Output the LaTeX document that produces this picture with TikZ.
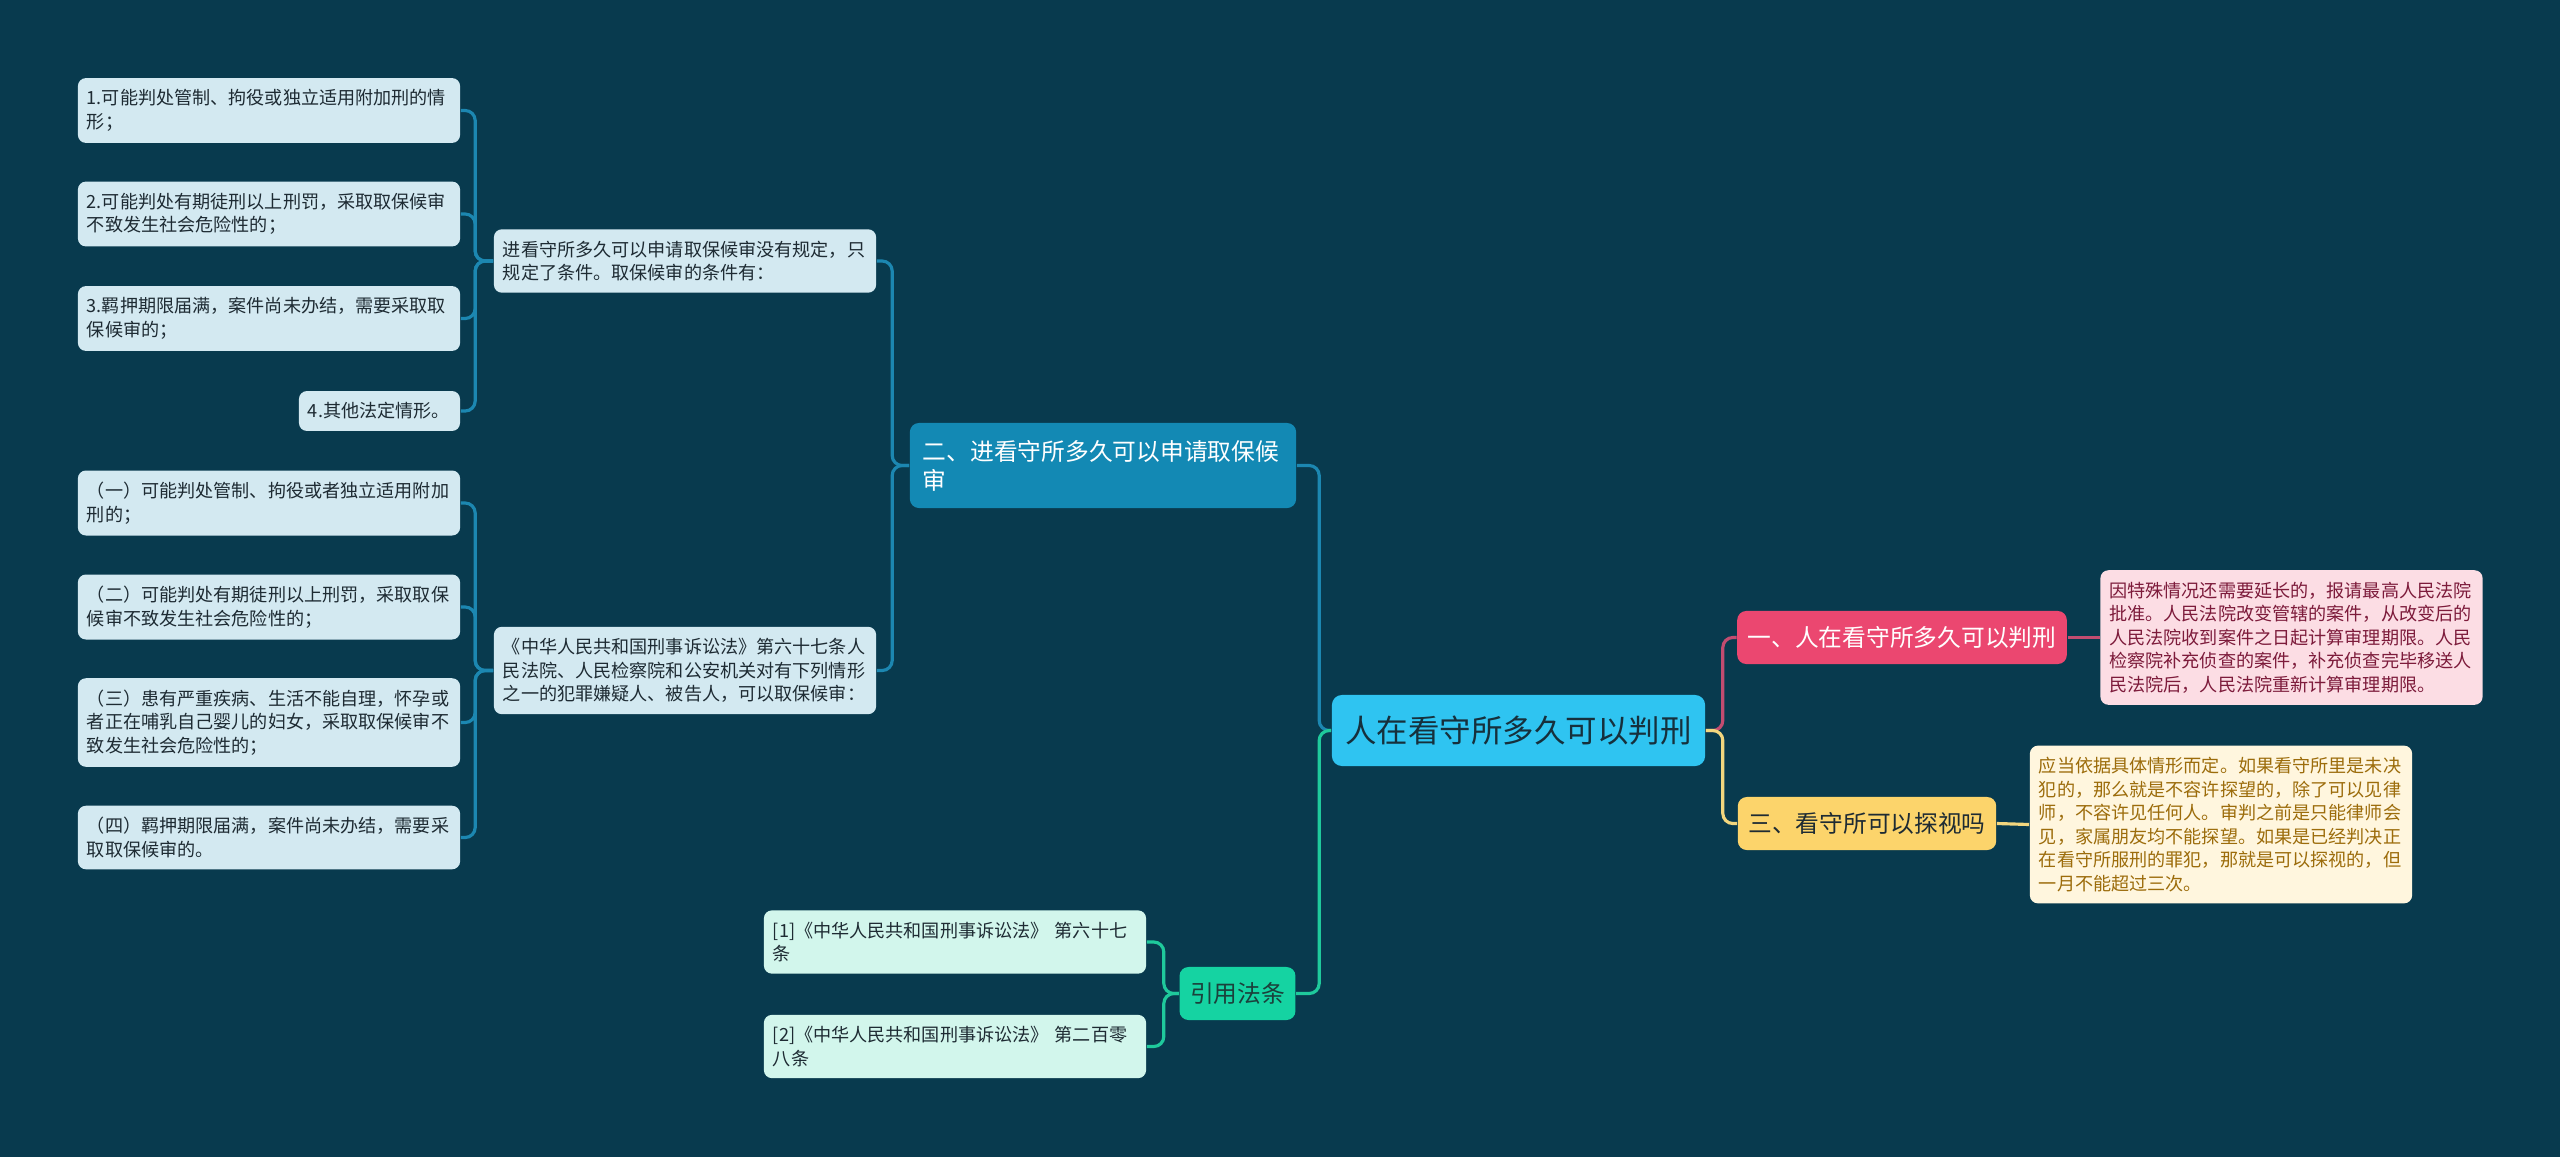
\documentclass[tikz,border=0pt]{standalone}
\usepackage{fontspec}
\newfontfamily\cjk{Noto Sans CJK SC}

\definecolor{bg}{HTML}{083A4E}
\definecolor{rootfill}{HTML}{2FC4F1}
\definecolor{roottext}{HTML}{16303C}
\definecolor{bluefill}{HTML}{1389B4}
\definecolor{blueline}{HTML}{1C87B1}
\definecolor{leafblue}{HTML}{D3E9F1}
\definecolor{pinkfill}{HTML}{EB4770}
\definecolor{pinkline}{HTML}{C24C70}
\definecolor{pinknote}{HTML}{FCDDE4}
\definecolor{pinktext}{HTML}{7D1B3B}
\definecolor{yellowfill}{HTML}{FCD46B}
\definecolor{yellowline}{HTML}{F2D67E}
\definecolor{yellownote}{HTML}{FFF6DE}
\definecolor{yellowtext}{HTML}{9C6C0B}
\definecolor{greenfill}{HTML}{15D3A2}
\definecolor{greenline}{HTML}{1FC99C}
\definecolor{greentext}{HTML}{1B403B}
\definecolor{leafgreen}{HTML}{D2F6EC}
\definecolor{darktext}{HTML}{1E2B33}

\newcommand\LeafFont{\cjk\fontsize{5.15pt}{6.7pt}\selectfont}
\newcommand\BranchFont{\cjk\fontsize{6.75pt}{8.25pt}\selectfont}
\newcommand\RootFont{\cjk\fontsize{8.95pt}{10pt}\selectfont}

\begin{document}
\begin{tikzpicture}[
      x = 0.01cm, y = -0.01cm,
      Line/.style = {draw, line width = 0.9pt, rounded corners = 0.1cm},
      BlueLine/.style = {Line, draw = blueline},
      GreenLine/.style = {Line, draw = greenline},
      PinkLine/.style = {Line, draw = pinkline},
      YellowLine/.style = {Line, draw = yellowline},
      Root/.style = {rectangle, fill = rootfill, rounded corners = 0.1cm, minimum width = 3.73cm, minimum height = 0.71cm, font = \RootFont, text = roottext},
      Branch/.style = {rectangle, rounded corners = 0.09cm, inner xsep = 0.105cm, inner ysep = 0.1cm, minimum height = 0.53cm, font = \BranchFont, text = darktext},
      Box/.style = {rectangle, rounded corners = 0.08cm, inner xsep = 0.09cm, inner ysep = 0.115cm, align = left, text width = 3.64cm, font = \LeafFont, text = darktext},
      Leaf/.style = {Box, fill = leafblue},
      Ref/.style = {Box, fill = leafgreen}
    ]
    \fill [bg] (0,0) rectangle (2560,1157);

    \node at (1518.5,730.5) [Root](R){人在看守所多久可以判刑};

    \node at (1902,637.5) [Branch, fill = pinkfill, text = white](B1){一、人在看守所多久可以判刑};
    \node at (1103,465.5) [Branch, fill = bluefill, text = white, text width = 3.6cm, align = left, inner xsep = 0.13cm, minimum height = 0.85cm](B2){二、进看守所多久可以申请取保候\\审};
    \node at (1867,823.5) [Branch, fill = yellowfill](B3){三、看守所可以探视吗};
    \node at (1237.5,993.5) [Branch, fill = greenfill, text = greentext](B4){引用法条};

    \node at (2291.5,637.5) [Box, fill = pinknote, text = pinktext](N1){因特殊情况还需要延长的，报请最高人民法院\\批准。人民法院改变管辖的案件，从改变后的\\人民法院收到案件之日起计算审理期限。人民\\检察院补充侦查的案件，补充侦查完毕移送人\\民法院后，人民法院重新计算审理期限。};
    \node at (2221,824.5) [Box, fill = yellownote, text = yellowtext](N3){应当依据具体情形而定。如果看守所里是未决\\犯的，那么就是不容许探望的，除了可以见律\\师，不容许见任何人。审判之前是只能律师会\\见，家属朋友均不能探望。如果是已经判决正\\在看守所服刑的罪犯，那就是可以探视的，但\\一月不能超过三次。};

    \node at (685,261) [Leaf](C1){进看守所多久可以申请取保候审没有规定，只\\规定了条件。取保候审的条件有：};
    \node at (685,670.5) [Leaf](C2){《中华人民共和国刑事诉讼法》第六十七条人\\民法院、人民检察院和公安机关对有下列情形\\之一的犯罪嫌疑人、被告人，可以取保候审：};

    \node at (269,110.5) [Leaf](D1){1.可能判处管制、拘役或独立适用附加刑的情\\形；};
    \node at (269,214) [Leaf](D2){2.可能判处有期徒刑以上刑罚，采取取保候审\\不致发生社会危险性的；};
    \node at (269,318.5) [Leaf](D3){3.羁押期限届满，案件尚未办结，需要采取取\\保候审的；};
    \node at (379.5,411) [Leaf, text width = 1.43cm](D4){4.其他法定情形。};

    \node at (269,503) [Leaf](E1){（一）可能判处管制、拘役或者独立适用附加\\刑的；};
    \node at (269,607) [Leaf](E2){（二）可能判处有期徒刑以上刑罚，采取取保\\候审不致发生社会危险性的；};
    \node at (269,722.5) [Leaf](E3){（三）患有严重疾病、生活不能自理，怀孕或\\者正在哺乳自己婴儿的妇女，采取取保候审不\\致发生社会危险性的；};
    \node at (269,837.5) [Leaf](E4){（四）羁押期限届满，案件尚未办结，需要采\\取取保候审的。};

    \node at (955,942) [Ref](F1){[1]《中华人民共和国刑事诉讼法》 第六十七\\条};
    \node at (955,1046.5) [Ref](F2){[2]《中华人民共和国刑事诉讼法》 第二百零\\八条};

    % root to main topics
    \path [PinkLine] (R.east) -- ++(17,0) |- (B1.west);
    \path [YellowLine] (R.east) -- ++(17,0) |- (B3.west);
    \path [BlueLine] (R.west) -- ++(-12,0) |- (B2.east);
    \path [GreenLine] (R.west) -- ++(-12,0) |- (B4.east);

    \path [PinkLine] (B1.east) -- (N1.west);
    \path [YellowLine] (B3.east) -- (N3.west);

    \foreach \n in {C1, C2}
      \path [BlueLine] (B2.west) -- ++(-17,0) |- (\n.east);
    \foreach \n in {1,...,4} {
      \path [BlueLine] (C1.west) -- ++(-18,0) |- (D\n.east);
      \path [BlueLine] (C2.west) -- ++(-18,0) |- (E\n.east);
    }
    \foreach \n in {1, 2}
      \path [GreenLine] (B4.west) -- ++(-15,0) |- (F\n.east);
  \end{tikzpicture}
\end{document}
